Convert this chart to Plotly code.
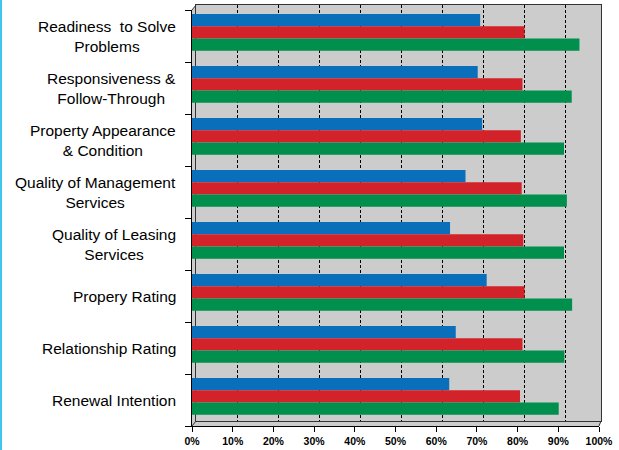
import plotly.graph_objects as go

W, H = 619, 450

categories = [
    "Readiness  to Solve<br>Problems",
    "Responsiveness &<br>Follow-Through",
    "Property Appearance<br>& Condition",
    "Quality of Management<br>Services",
    "Quality of Leasing<br>Services",
    "Propery Rating",
    "Relationship Rating",
    "Renewal Intention",
]
blue_vals = [70.8, 70.2, 71.3, 67.2, 63.4, 72.4, 64.8, 63.2]
red_vals = [81.7, 81.2, 80.8, 81.0, 81.4, 81.7, 81.2, 80.6]
green_vals = [95.2, 93.3, 91.4, 92.1, 91.4, 93.4, 91.5, 90.1]
tick_vals = [0, 10, 20, 30, 40, 50, 60, 70, 80, 90, 100]
tick_text = [f"{v}%" for v in tick_vals]

cat_idx = list(range(len(categories)))


def px(x):
    return x / W


def py(y):
    return 1 - y / H


BLUE = "#0a6fbb"
RED = "#d2232b"
GREEN = "#008f4c"
WALL = "#cccccc"
font_family = "Liberation Sans, Arial, sans-serif"
line_col = "#333333"

fig = go.Figure()

# invisible trace so the back-wall subplot (gridlines) is drawn
fig.add_trace(go.Scatter(x=[None], y=[None], xaxis="x", yaxis="y",
                         showlegend=False, hoverinfo="skip", mode="markers"))

bw = 0.235
for vals, color, off in [(blue_vals, BLUE, -0.423), (red_vals, RED, -0.188), (green_vals, GREEN, 0.047)]:
    fig.add_trace(go.Bar(
        x=vals, y=cat_idx, orientation="h",
        marker=dict(color=color, line=dict(width=0)),
        width=bw, offset=off,
        xaxis="x2", yaxis="y2", showlegend=False,
        hoverinfo="x",
    ))

annotations = []
for i, lab in enumerate(categories):
    annotations.append(dict(
        x=px(178), xref="paper", y=i, yref="y2",
        text=lab, showarrow=False, xanchor="right", yanchor="middle",
        align="center", font=dict(family=font_family, size=15.5, color="#000"),
    ))

wall_path = (f"M{px(192)},{py(10)} L{px(196)},{py(5)} L{px(601)},{py(5)} "
             f"L{px(601)},{py(421)} L{px(599)},{py(426)} L{px(192)},{py(426)} Z")

shapes = [
    dict(type="path", xref="paper", yref="paper", path=wall_path,
         fillcolor=WALL, line=dict(width=0), layer="below"),
    # left cyan border
    dict(type="line", xref="paper", yref="paper", x0=px(1), x1=px(1), y0=0, y1=1,
         line=dict(color="#3ec6f0", width=2)),
    # 3D corner edges
    dict(type="line", xref="paper", yref="paper", x0=px(192), y0=py(10), x1=px(196), y1=py(5),
         line=dict(color=line_col, width=1)),
    dict(type="line", xref="paper", yref="paper", x0=px(192), y0=py(426), x1=px(196), y1=py(421),
         line=dict(color=line_col, width=1)),
    dict(type="line", xref="paper", yref="paper", x0=px(599), y0=py(426), x1=px(601), y1=py(421),
         line=dict(color=line_col, width=1)),
]

fig.update_layout(
    template="none",
    width=W, height=H,
    margin=dict(l=0, r=0, t=0, b=0, pad=0, autoexpand=False),
    paper_bgcolor="white",
    plot_bgcolor="rgba(0,0,0,0)",
    barmode="overlay",
    font=dict(family=font_family, color="#000"),
    showlegend=False,
    # back wall axes (gridlines)
    xaxis=dict(
        domain=[px(196), px(601)], range=[0, 98.7], anchor="y",
        showgrid=True, gridcolor="#000", gridwidth=1, griddash="3px,2px",
        tickvals=[10, 20, 30, 40, 50, 60, 70, 80, 90],
        showticklabels=False, ticks="", zeroline=False,
        showline=True, linecolor=line_col, linewidth=1, mirror=True,
        fixedrange=True, automargin=False,
    ),
    yaxis=dict(
        domain=[py(421), py(5)], range=[0, 1], anchor="x",
        showgrid=False, showticklabels=False, ticks="", zeroline=False,
        showline=True, linecolor=line_col, linewidth=1, mirror=True,
        fixedrange=True, automargin=False,
    ),
    # front axes (bars)
    xaxis2=dict(
        domain=[px(192), px(599)], range=[0, 100], anchor="y2",
        showgrid=False, zeroline=False,
        tickvals=tick_vals, ticktext=tick_text,
        ticks="outside", ticklen=5, tickcolor="#000", tickwidth=1,
        tickfont=dict(family=font_family, size=10.5, color="#000", weight="bold"),
        showline=True, linecolor="#000", linewidth=1,
        fixedrange=True, automargin=False,
    ),
    yaxis2=dict(
        domain=[py(426), py(10)], anchor="x2",
        range=[len(categories) - 0.5, -0.5],
        tickvals=cat_idx, showticklabels=False, ticks="",
        showgrid=False, zeroline=False,
        showline=True, linecolor="#000", linewidth=1,
        minor=dict(tickvals=[i - 0.5 for i in range(len(categories) + 1)],
                   ticks="outside", ticklen=6, tickcolor="#000", tickwidth=1, showgrid=False),
        fixedrange=True, automargin=False,
    ),
    annotations=annotations,
    shapes=shapes,
)

fig.write_html("out.html")
